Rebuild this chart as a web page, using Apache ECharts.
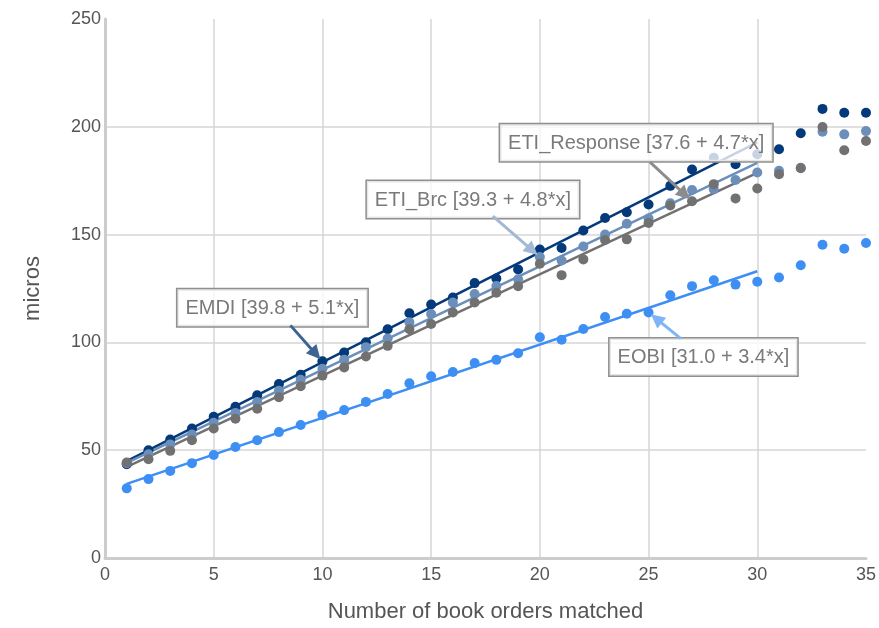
<!DOCTYPE html>
<html><head><meta charset="utf-8">
<script src="https://cdn.jsdelivr.net/npm/echarts@6/dist/echarts.min.js"></script>
<style>html,body{margin:0;padding:0;background:#fff}#c{width:879px;height:628px}</style>
</head><body><div id="c"></div>
<script>
const orders = [1,2,3,4,5,6,7,8,9,10,11,12,13,14,15,16,17,18,19,20,21,22,23,24,25,26,27,28,29,30,31,32,33,34,35];
const emdi = [43.5,50.0,55.0,60.1,65.5,70.1,75.5,80.7,85.0,91.2,95.3,100.1,106.1,113.5,117.6,120.8,127.5,129.6,133.8,143.1,143.8,151.9,157.7,160.4,164.0,172.6,180.2,185.6,182.6,187.3,189.6,197.0,208.3,206.5,206.5];
const etiBrc = [44.0,48.1,52.7,57.3,62.7,67.3,72.3,77.6,82.7,87.8,91.9,97.8,101.8,109.3,113.2,118.5,122.4,126.2,129.3,139.6,138.0,144.5,150.0,155.0,157.5,164.5,170.7,171.0,175.3,178.8,179.6,181.0,197.7,196.5,198.0];
const etiResponse = [44.3,45.8,49.7,54.6,60.1,64.6,69.2,74.6,79.7,84.6,88.4,93.5,98.4,106.1,108.5,113.9,118.5,123.0,126.1,136.5,131.2,138.5,147.5,147.8,155.4,163.5,165.5,173.4,166.8,171.4,178.0,180.8,199.9,189.1,193.4];
const eobi = [32.3,36.6,40.4,44.0,47.8,51.5,54.6,58.4,61.7,66.3,68.6,72.4,76.1,81.0,84.3,86.3,90.4,91.9,95.0,102.4,101.2,106.2,111.8,113.3,113.9,121.9,126.1,128.8,126.8,128.1,130.1,135.8,145.3,143.4,146.1];
const seriesNames = ['EMDI','ETI_Brc','ETI_Response','EOBI'];
const trendIntercepts = [39.8, 39.3, 37.6, 31.0];
const trendSlopes = [5.1, 4.8, 4.7, 3.4];
const trendRange = [1, 30];
const xTicks = [0,5,10,15,20,25,30,35];
const yTicks = [0,50,100,150,200,250];

const colors = ['#04397a', '#6b8fba', '#717171', '#3d8ff4'];
const arrowColors = ['#3c6593', '#a3b9d3', '#8c8c8c', '#7db5f6'];
const FONT = '"Liberation Sans", Arial, sans-serif';
const seriesData = [emdi, etiBrc, etiResponse, eobi];

const chart = echarts.init(document.getElementById('c'), null, {renderer: 'canvas'});

function trendPoints(i) {
  return trendRange.map(x => [x, +(trendIntercepts[i] + trendSlopes[i] * x).toFixed(2)]);
}
const drawOrder = [3, 0, 1, 2];
const series = [];
drawOrder.forEach(i => {
  series.push({
    name: seriesNames[i] + ' trend', type: 'line', data: trendPoints(i),
    showSymbol: false, silent: true, z: 2,
    lineStyle: {color: colors[i], width: 2.5}
  });
});
drawOrder.forEach(i => {
  series.push({
    name: seriesNames[i], type: 'scatter', z: 3,
    data: orders.map((x, k) => [x, seriesData[i][k]]),
    symbolSize: 10, itemStyle: {color: colors[i], opacity: 1}
  });
});

chart.setOption({
  animation: false,
  backgroundColor: '#fff',
  grid: {left: 105, right: 13, top: 19, bottom: 67, containLabel: false},
  xAxis: {
    type: 'value', min: xTicks[0], max: xTicks[xTicks.length - 1], interval: 5,
    name: 'Number of book orders matched', nameLocation: 'middle', nameGap: 43,
    nameTextStyle: {fontSize: 22, color: '#555', fontFamily: FONT},
    axisLine: {show: true, lineStyle: {color: '#cccccc', width: 3}},
    axisTick: {show: false},
    axisLabel: {fontSize: 18, color: '#555', fontFamily: FONT, margin: 8},
    splitLine: {show: true, showMinLine: false, showMaxLine: false, lineStyle: {color: '#d6d6d6', width: 1.5}}
  },
  yAxis: {
    type: 'value', min: yTicks[0], max: yTicks[yTicks.length - 1], interval: 50,
    name: 'micros', nameLocation: 'middle', nameGap: 61,
    nameTextStyle: {fontSize: 22, color: '#555', fontFamily: FONT},
    axisLine: {show: true, lineStyle: {color: '#cccccc', width: 3}},
    axisTick: {show: false},
    axisLabel: {fontSize: 18, color: '#555', fontFamily: FONT, margin: 4},
    splitLine: {show: true, showMinLine: false, showMaxLine: false, lineStyle: {color: '#d6d6d6', width: 1.5}}
  },
  series: series
});

// annotation layout (pixel offsets relative to the target point)
const annotations = [
  {s: 0, x: 10, box: [-145, -72], tail: [-32, -36]},
  {s: 1, x: 20, box: [-173, -76], tail: [-47, -41]},
  {s: 2, x: 27, box: [-192, -77], tail: [-42, -39]},
  {s: 3, x: 25, box: [-39, 26], tail: [32, 26]}
];

const graphics = [];
annotations.forEach(a => {
  const k = orders.indexOf(a.x);
  const p = chart.convertToPixel({gridIndex: 0}, [a.x, seriesData[a.s][k]]);
  const label = seriesNames[a.s] + ' [' + trendIntercepts[a.s].toFixed(1) + ' + ' + trendSlopes[a.s].toFixed(1) + '*x]';
  graphics.push({
    type: 'text', x: p[0] + a.box[0], y: p[1] + a.box[1], z: 100,
    style: {
      text: label, fill: '#7a7a7a', fontSize: 20, fontFamily: FONT, lineHeight: 22,
      backgroundColor: 'rgba(255,255,255,0.78)', borderColor: '#8f8f8f', borderWidth: 1.5,
      padding: [8, 8, 7, 8], align: 'left', verticalAlign: 'top'
    }
  });
  const tx = p[0] + a.tail[0], ty = p[1] + a.tail[1];
  let dx = p[0] - tx, dy = p[1] - ty;
  const len = Math.sqrt(dx * dx + dy * dy);
  const ux = dx / len, uy = dy / len;
  const tipX = p[0] - ux * 3, tipY = p[1] - uy * 3;
  const hl = 14, hw = 7;
  const bx = tipX - ux * hl, by = tipY - uy * hl;
  const nx = -uy, ny = ux;
  graphics.push({
    type: 'line', z: 101,
    shape: {x1: tx, y1: ty, x2: bx + ux * 2, y2: by + uy * 2},
    style: {stroke: arrowColors[a.s], lineWidth: 3}
  });
  graphics.push({
    type: 'polygon', z: 101,
    shape: {points: [[tipX, tipY], [bx + nx * hw, by + ny * hw], [bx - nx * hw, by - ny * hw]]},
    style: {fill: arrowColors[a.s]}
  });
});
chart.setOption({graphic: graphics});
</script>
</body></html>
